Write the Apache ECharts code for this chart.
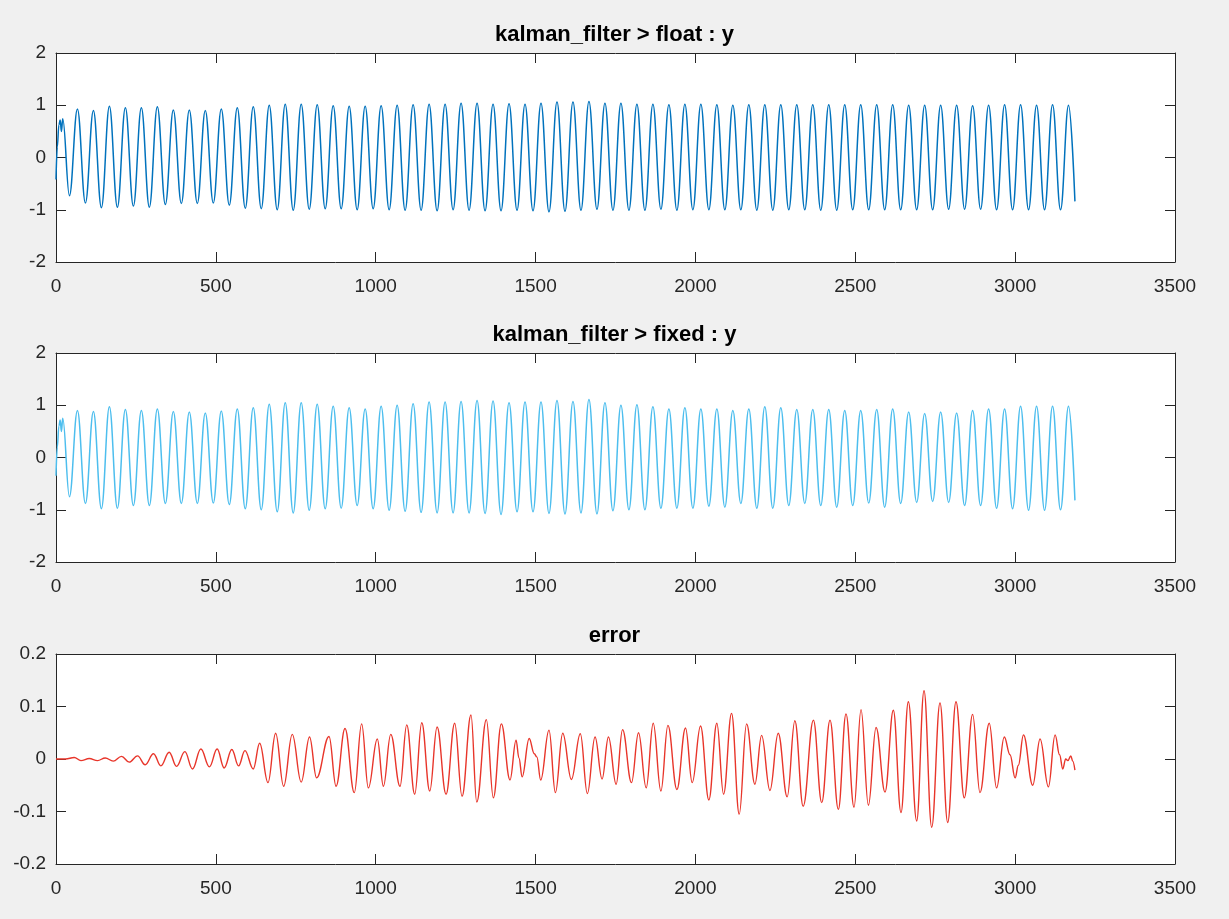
<!DOCTYPE html>
<html>
<head>
<meta charset="utf-8">
<script src="https://cdn.jsdelivr.net/npm/echarts@6/dist/echarts.min.js"></script>
<style>
html,body{margin:0;padding:0;background:#f0f0f0;}
#chart{width:1229px;height:919px;}
</style>
</head>
<body>
<div id="chart"></div>
<script>
// ---------------- DATA ----------------
const titles = ['kalman_filter > float : y', 'kalman_filter > fixed : y', 'error'];
const xTickValues = [0, 500, 1000, 1500, 2000, 2500, 3000, 3500];
const ySignalTicks = [-2, -1, 0, 1, 2];
const yErrorTicks = [-0.2, -0.1, 0, 0.1, 0.2];

// sample index of each trough / peak (trough, peak, trough, peak, ...)
const cycleIdx = [42,67,92,117,142,167,192,217,242,267,292,317,342,367,392,417,442,467,492,517,
  542,567,592,617,642,667,692,717,742,767,792,817,842,867,892,917,942,967,992,1017,
  1042,1067,1092,1117,1142,1167,1192,1217,1242,1267,1292,1317,1342,1367,1392,1417,1442,1467,1492,1517,
  1542,1567,1592,1617,1642,1667,1692,1717,1742,1767,1792,1817,1842,1867,1892,1917,1942,1967,1992,2017,
  2042,2067,2092,2117,2142,2167,2192,2217,2242,2267,2292,2317,2342,2367,2392,2417,2442,2467,2492,2517,
  2542,2567,2592,2617,2642,2667,2692,2717,2742,2767,2792,2817,2842,2867,2892,2917,2942,2967,2992,3017,
  3042,3067,3092,3117,3142,3167];

// float : y
const floatStartIdx = [0, 4, 9, 13, 17, 21];
const floatStartVal = [-0.42, 0.2, 0.62, 0.72, 0.5, 0.74];
const floatTroughs = [-0.73,-0.87,-0.96,-0.95,-0.93,-0.95,-0.90,-0.88,-0.88,-0.87,-0.91,-0.97,-0.98,-1.00,-1.01,-0.99,-0.98,-0.98,-1.00,-0.98,-1.00,-1.01,-1.01,-1.02,-1.00,
  -1.01,-1.02,-1.02,-1.01,-1.02,-1.04,-1.03,-1.01,-0.99,-1.01,-1.01,-1.01,-0.99,-1.01,-1.00,-1.00,-1.00,-1.00,-1.01,-1.01,-1.00,-1.00,-1.01,-1.01,-1.00,
  -1.00,-1.00,-1.00,-1.00,-1.00,-0.99,-0.99,-0.99,-1.00,-1.00,-1.00,-1.00,-1.00];
const floatPeaks = [0.93,0.90,0.98,0.95,0.95,0.97,0.91,0.91,0.90,0.93,0.95,0.97,1.00,1.02,1.02,1.01,0.99,0.98,0.98,0.99,1.00,1.01,1.02,1.02,1.04,
  1.04,1.02,1.03,1.02,1.04,1.06,1.06,1.07,1.04,1.04,1.02,1.02,1.01,1.02,1.02,1.01,1.00,1.01,1.01,1.01,1.01,1.01,1.01,1.01,1.01,
  1.01,1.01,1.00,1.00,1.00,1.00,0.99,1.00,1.01,1.01,1.00,1.01,1.00];
const floatEnd = [3187, -0.84];

// fixed : y
const fixedStartIdx = [0, 4, 9, 13, 17, 21];
const fixedStartVal = [-0.35, 0.2, 0.6, 0.72, 0.5, 0.75];
const fixedTroughs = [-0.75,-0.88,-0.98,-0.97,-0.92,-0.92,-0.88,-0.88,-0.88,-0.87,-0.90,-0.98,-1.00,-1.04,-1.06,-1.01,-0.98,-0.97,-0.92,-0.98,-1.01,-1.03,-1.05,-1.06,-1.06,-1.06,-1.07,-1.09,-1.04,-1.04,-1.07,-1.08,
  -1.06,-1.08,-1.02,-1.00,-1.00,-0.97,-0.97,-0.97,-0.93,-0.95,-0.88,-0.97,-0.97,-0.92,-0.88,-0.92,-0.95,-0.92,-0.87,-0.95,-0.88,-0.86,-0.84,-0.86,-0.92,-0.92,-0.97,-0.98,-1.01,-1.01,-1.00];
const fixedPeaks = [0.90,0.88,0.97,0.92,0.90,0.93,0.88,0.87,0.85,0.89,0.93,0.95,1.02,1.05,1.05,1.02,0.98,0.95,0.93,0.98,1.00,1.03,1.06,1.06,1.07,1.09,1.08,1.05,1.06,1.06,1.09,1.07,
  1.11,1.05,1.00,1.01,0.97,0.93,0.95,0.93,0.93,0.90,0.93,0.97,0.95,0.92,0.92,0.92,0.90,0.90,0.92,0.93,0.87,0.84,0.87,0.85,0.90,0.93,0.93,0.98,0.98,0.98,0.98];
const fixedEnd = [3187, -0.82];

// error
const errorIdx = [0,30,57,78,104,130,154,179,205,229,255,279,305,328,354,377,403,427,453,480,
  504,526,550,571,591,617,637,663,687,712,739,767,793,815,854,876,904,933,956,977,
  1005,1024,1047,1076,1097,1122,1144,1169,1192,1220,1247,1270,1298,1316,1346,1368,1393,1420,1439,1448,
  1458,1480,1496,1504,1516,1542,1562,1585,1612,1640,1662,1686,1708,1728,1752,1772,1800,1822,1846,1868,
  1892,1914,1942,1969,1990,2016,2042,2067,2088,2113,2137,2160,2186,2207,2233,2259,2287,2311,2337,2369,
  2395,2421,2447,2471,2496,2518,2541,2565,2593,2619,2643,2666,2692,2715,2739,2765,2789,2815,2841,2867,
  2890,2919,2942,2966,2984,3000,3010,3026,3055,3078,3104,3125,3139,3149,3158,3165,3174,3180,3187];
const errorVal = [0.000,0.000,0.003,-0.003,0.001,-0.003,0.002,-0.004,0.005,-0.006,0.006,-0.011,0.010,-0.013,0.013,-0.014,0.014,-0.019,0.019,-0.015,
  0.019,-0.017,0.018,-0.013,0.016,-0.019,0.030,-0.045,0.049,-0.052,0.047,-0.044,0.042,-0.036,0.043,-0.052,0.058,-0.064,0.067,-0.055,
  0.038,-0.052,0.047,-0.052,0.065,-0.067,0.069,-0.061,0.061,-0.067,0.068,-0.071,0.084,-0.082,0.075,-0.074,0.067,-0.040,0.036,0.002,
  -0.034,0.039,0.010,0.004,-0.040,0.055,-0.064,0.049,-0.039,0.048,-0.066,0.042,-0.038,0.042,-0.048,0.056,-0.045,0.050,-0.055,0.068,
  -0.061,0.064,-0.058,0.059,-0.045,0.063,-0.078,0.068,-0.067,0.087,-0.105,0.067,-0.048,0.045,-0.060,0.049,-0.072,0.073,-0.090,0.074,
  -0.083,0.074,-0.096,0.086,-0.092,0.094,-0.088,0.060,-0.063,0.093,-0.102,0.109,-0.118,0.130,-0.130,0.107,-0.121,0.109,-0.074,0.085,
  -0.064,0.068,-0.055,0.042,0.008,-0.036,-0.012,0.046,-0.050,0.038,-0.053,0.046,0.008,-0.019,0.000,-0.003,0.006,-0.004,-0.021];

// ---------------- BUILD ----------------
function buildWave(startIdx, startVal, troughs, peaks, end) {
  const pts = startIdx.map((x, i) => [x, startVal[i]]);
  for (let k = 0; k < troughs.length; k++) {
    pts.push([cycleIdx[2 * k], troughs[k]]);
    pts.push([cycleIdx[2 * k + 1], peaks[k]]);
  }
  pts.push(end);
  return pts;
}
const floatData = buildWave(floatStartIdx, floatStartVal, floatTroughs, floatPeaks, floatEnd);
const fixedData = buildWave(fixedStartIdx, fixedStartVal, fixedTroughs, fixedPeaks, fixedEnd);
const errorData = errorIdx.map((x, i) => [x, errorVal[i]]);

const AX = '#262626';
const FONT = '"Liberation Sans", Arial, Helvetica, sans-serif';
const gridTops = [53, 353, 654];
const gridHeights = [209, 209, 210];
const titleTops = [24, 324, 625];
const yTicksPer = [ySignalTicks, ySignalTicks, yErrorTicks];
const colors = ['#0072bd', '#4dbeee', '#e8352a'];
const widths = [1.5, 1.5, 1.4];
const datas = [floatData, fixedData, errorData];

const grids = [], xAxes = [], yAxes = [], series = [], titleList = [];
function tickStep(arr) { return +(arr[1] - arr[0]).toFixed(6); }
function plainNum(v) { return String(+v.toFixed(6)); }

for (let i = 0; i < 3; i++) {
  grids.push({ left: 56, top: gridTops[i], width: 1119, height: gridHeights[i],
    show: true, backgroundColor: '#ffffff', borderWidth: 0 });
  const xBase = {
    type: 'value', gridIndex: i,
    min: xTickValues[0], max: xTickValues[xTickValues.length - 1], interval: tickStep(xTickValues),
    axisLine: { show: true, onZero: false, lineStyle: { color: AX, width: 1 } },
    axisTick: { show: true, inside: true, length: 10, lineStyle: { color: AX, width: 1 } },
    splitLine: { show: false }
  };
  xAxes.push(Object.assign({}, xBase, { position: 'bottom',
    axisLabel: { show: true, margin: 15, color: AX, fontSize: 19, fontFamily: FONT, formatter: plainNum } }));
  xAxes.push(Object.assign({}, xBase, { position: 'top', axisLabel: { show: false } }));
  const yt = yTicksPer[i];
  const yBase = {
    type: 'value', gridIndex: i,
    min: yt[0], max: yt[yt.length - 1], interval: tickStep(yt),
    axisLine: { show: true, onZero: false, lineStyle: { color: AX, width: 1 } },
    axisTick: { show: true, inside: true, length: 10, lineStyle: { color: AX, width: 1 } },
    splitLine: { show: false }
  };
  yAxes.push(Object.assign({}, yBase, { position: 'left',
    axisLabel: { show: true, margin: 10, color: AX, fontSize: 19, fontFamily: FONT, formatter: plainNum } }));
  yAxes.push(Object.assign({}, yBase, { position: 'right', axisLabel: { show: false } }));
  series.push({
    type: 'line', xAxisIndex: 2 * i, yAxisIndex: 2 * i, data: datas[i],
    showSymbol: false, symbol: 'none', smooth: 0.4, smoothMonotone: 'x',
    lineStyle: { color: colors[i], width: widths[i] }, silent: true, clip: true
  });
  titleList.push({ text: titles[i], left: 'center', top: titleTops[i], padding: 0,
    textStyle: { fontFamily: FONT, fontSize: 22, fontWeight: 'bold', color: '#000' } });
}

const chart = echarts.init(document.getElementById('chart'), null, { renderer: 'canvas' });
chart.setOption({
  backgroundColor: '#f0f0f0',
  animation: false,
  title: titleList,
  grid: grids,
  xAxis: xAxes,
  yAxis: yAxes,
  series: series
});
</script>
</body>
</html>
